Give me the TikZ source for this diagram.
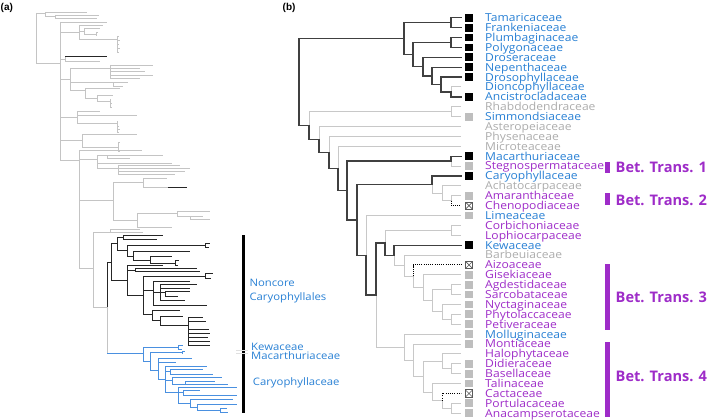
\documentclass[tikz,border=0pt]{standalone}
\usepackage{fontspec}
\setmainfont{Open Sans}
\newfontfamily\panelfont{Liberation Sans}
\newfontfamily\tipfont[FakeStretch=1.1]{Open Sans}
\newfontfamily\afont[FakeStretch=1.1]{Open Sans}
\definecolor{tblue}{RGB}{40,128,212}
\definecolor{tpurple}{RGB}{158,44,200}
\definecolor{tgray}{RGB}{172,172,172}
\definecolor{brlt}{RGB}{200,200,200}
\definecolor{brdk}{RGB}{64,64,64}
\definecolor{sqgray}{RGB}{190,190,190}
\definecolor{xgray}{RGB}{90,90,90}
\definecolor{agray}{RGB}{196,196,196}
\definecolor{ablue}{RGB}{74,144,224}
\begin{document}
\begin{tikzpicture}[x=1pt,y=-1pt,
  brL/.style={draw=brlt,line width=1pt},
  brD/.style={draw=brdk,line width=1.3pt},
  brDot/.style={draw=black,line width=0.9pt,dash pattern=on 1.1pt off 1.1pt},
  ga/.style={draw=agray,line width=0.8pt},
  ka/.style={draw=black!85,line width=1pt},
  ba/.style={draw=ablue,line width=1pt},
  sqB/.style={rectangle,fill=black,minimum size=7.8pt,inner sep=0pt},
  sqG/.style={rectangle,fill=sqgray,minimum size=7.8pt,inner sep=0pt},
  sqX/.style={rectangle,draw=xgray,fill=white,line width=0.7pt,minimum size=7.2pt,inner sep=0pt,
     path picture={\draw[xgray,line width=0.6pt] (path picture bounding box.south west)--(path picture bounding box.north east) (path picture bounding box.north west)--(path picture bounding box.south east);}},
  taxlab/.style={anchor=base west,inner sep=0pt,font=\tipfont\fontsize{11}{11}\selectfont,yshift=-3.9pt},
  btlab/.style={anchor=west,inner sep=0pt,font=\bfseries\fontsize{14.6}{14.6}\selectfont,text=tpurple},
  btbar/.style={rectangle,fill=tpurple,minimum width=5pt,inner sep=0pt},
  alab/.style={anchor=base west,inner sep=0pt,font=\afont\fontsize{10.3}{10.3}\selectfont,text=tblue},
  plab/.style={anchor=west,inner sep=0pt,font=\panelfont\bfseries\fontsize{10}{10}\selectfont}
]
\useasboundingbox (0,0) rectangle (709,420);

% ---------------- panel labels
\node[plab] (pa) at (0.5,8) {(a)};
\node[plab] (pb) at (282.5,8) {(b)};

% ---------------- panel (a): gray part
\draw[ga]
 (36,13)--(36,63)--(60,63)
 (36,13)--(45,13) (45,12.5)--(45,16.5) (45,12.5)--(87,12.5) (45,16.5)--(55,16.5)
 (55,15)--(55,18) (55,15)--(99,15) (55,18)--(97,18)
 (60,22)--(60,160)--(79,160)
 (60,22)--(107,22)
 (60,32)--(79,32) (79,25)--(79,39) (79,25)--(103,25)
 (79,31)--(84,31) (84,28)--(84,34) (84,28)--(100,28) (84,34)--(96,34) (96,32)--(96,36) (96,32)--(98,32)
 (79,39)--(117,39) (117,36)--(117,52)
 (117,36)--(119,36) (117,40)--(120,40) (117,44)--(119,44) (117,48)--(120,48) (117,52)--(119,52)
 (60,59)--(65,59) (65,57)--(65,61) (65,61)--(100,61)
 (60,79)--(70,79) (70,68)--(70,90)
 (70,68)--(110,68) (110,65)--(110,78) (110,65)--(153,65) (110,68)--(140,68) (110,71)--(145,71) (110,75)--(153,75) (110,78)--(140,78)
 (70,82)--(128,82) (113,82)--(113,86) (113,86)--(123,86)
 (70,90)--(85,90) (85,88)--(85,98) (85,88)--(120,88) (85,98)--(97,98) (97,95)--(97,101) (97,95)--(113,95) (97,101)--(110,101) (110,99)--(110,107) (110,103)--(112,103) (110,107)--(112,107)
 (60,117)--(77,117) (77,111)--(77,123) (77,111)--(100,111) (77,115)--(137,115) (77,123)--(117,123) (117,121)--(117,132) (117,126)--(119,126) (117,129)--(120,129) (117,132)--(119,132)
 (60,140)--(82,140) (82,134)--(82,147) (82,134)--(137,134) (82,147)--(118,147) (118,142)--(118,151) (118,142)--(120,142) (118,151)--(120,151)
 (79,150)--(79,268)
 (79,150)--(142,150)
 (79,159)--(97,159) (97,155)--(97,168) (97,155)--(163,155) (107,155)--(107,158) (107,158)--(130,158)
 (97,163)--(172,163) (97,168)--(118,168) (118,165)--(118,174) (118,165)--(180,165) (118,168)--(190,168) (118,171)--(185,171) (118,174)--(175,174)
 (79,200)--(113,200) (113,182)--(113,220) (113,182)--(143,182) (143,178)--(143,187) (143,178)--(167,178) (143,187)--(168,187)
 (113,220)--(137,220) (137,213)--(137,227) (137,213)--(177,213) (177,211)--(177,216) (177,211)--(210,211) (177,216)--(203,216) (190,216)--(190,219) (190,219)--(210,219) (137,227)--(172,227)
 (79,268)--(93,268) (93,232)--(93,307) (93,232)--(143,232) (110,229)--(110,232) (110,229)--(140,229)
 (93,307)--(107,307)--(107,353);

% panel (a): noncore (black)
\draw[ka]
 (65,57)--(107,57)
 (168,187)--(187,187)
 (107,262)--(107,307)
 (107,262)--(111,262) (111,243)--(111,280)
 (111,243)--(117,243) (117,237)--(117,250)
 (117,237)--(123,237) (123,235.5)--(123,239.5) (123,235.5)--(163,235.5) (123,239.5)--(157,239.5)
 (117,250)--(127,250) (127,245)--(127,256)
 (127,245)--(205,245) (205,243)--(205,247) (205,243)--(210,243) (205,247)--(209,247)
 (127,256)--(133,256) (133,251)--(133,260) (133,251)--(190,251)
 (133,260)--(150,260) (150,256)--(150,263) (150,256)--(172,256) (150,263)--(175,263) (175,260.5)--(175,265) (175,260.5)--(179,260.5) (175,265)--(178,265)
 (111,280)--(127,280) (127,265)--(127,295)
 (127,265)--(163,265)
 (127,270)--(135,270) (135,268)--(135,271.5) (135,268)--(197,268) (135,271.5)--(200,271.5)
 (127,295)--(143,295) (143,276)--(143,314)
 (143,276)--(205,276) (205,273.5)--(205,278.5) (205,273.5)--(213,273.5) (205,278.5)--(211,278.5)
 (143,290)--(153,290) (153,281)--(153,305) (153,281)--(190,281) (153,305)--(207,305)
 (153,292)--(160,292) (160,284)--(160,300) (160,284)--(197,284) (160,288)--(190,288) (160,300)--(185,300) (160,292)--(165,292) (165,291)--(165,296) (165,291)--(190,291) (165,296)--(178,296)
 (143,314)--(152,314) (152,310)--(152,320) (152,310)--(180,310) (152,320)--(160,320) (160,316)--(160,325) (160,316)--(183,316) (160,325)--(188,325)
 (188,317)--(188,345) (188,317)--(203,317) (188,321)--(206,321) (188,329)--(209,329) (188,333)--(210,333) (188,337)--(208,337) (188,341)--(210,341) (188,345)--(210,345);

% panel (a): Caryophyllaceae (blue)
\draw[ba]
 (107,353)--(143,353) (143,347)--(143,361)
 (143,347)--(178,347) (178,345.5)--(178,349) (178,345.5)--(183,345.5) (178,349)--(182,349)
 (143,361)--(150,361) (150,352)--(150,370) (150,352)--(182,352) (182,351)--(182,353.5) (182,351)--(185,351)
 (150,370)--(158,370) (158,358)--(158,379) (158,358)--(192,358) (158,362)--(176,362) (158,379)--(165,379)
 (165,366)--(165,392) (165,366)--(207,366)
 (165,371)--(170,371) (170,369)--(170,374) (170,369)--(203,369) (170,374)--(213,374)
 (165,380)--(172,380) (172,377)--(172,384) (172,377)--(222,377) (172,384)--(228,384) (185,381)--(215,381) (185,381)--(185,384)
 (165,392)--(178,392) (178,387)--(178,403)
 (178,387)--(237,387)
 (178,392)--(183,392) (183,390)--(183,395) (183,390)--(200,390) (183,395)--(237,395)
 (178,403)--(190,403) (190,399)--(190,407) (190,399)--(233,399) (190,407)--(197,407) (197,404)--(197,410) (197,404)--(237,404) (197,410)--(220,410) (220,408)--(220,412) (220,408)--(227,408) (220,412)--(228,412);

% panel (a): bar and labels
\node[rectangle,fill=black,minimum width=3.4pt,minimum height=178pt,inner sep=0pt] (abar) at (243.5,324) {};
\draw[draw=black!12,line width=0.8pt] (236,350.5)--(248,350.5) (236,353.2)--(248,353.2);
\node[alab] (anc1) at (249.3,286) {Noncore};
\node[alab] (anc2) at (249.3,300) {Caryophyllales};
\node[alab] (akew) at (251,350) {Kewaceae};
\node[alab] (amac) at (251,359.3) {Macarthuriaceae};
\node[alab] (acar) at (252.7,385) {Caryophyllaceae};

% ---------------- panel (b)
\begin{scope}[y=-9.885pt,yshift=-7.915pt]
\foreach \i in {1,...,41} {\coordinate (t\i) at (461,\i);}
\coordinate (root) at (299,7.507);
\coordinate (nA) at (404,3.1094);
\coordinate (nTF) at (451,1.5);
\coordinate (nA2) at (413,4.7188);
\coordinate (nPP) at (451,3.5);
\coordinate (nA3) at (423,5.9375);
\coordinate (nA4) at (432,6.875);
\coordinate (nA5) at (441,7.75);
\coordinate (nDA) at (451,8.5);
\coordinate (nB1) at (309,11.9047);
\coordinate (nRS) at (451,10.5);
\coordinate (nB2) at (319,13.3094);
\coordinate (nB3) at (329,14.6187);
\coordinate (nB4) at (338,16.2374);
\coordinate (nB5) at (347,18.4749);
\coordinate (nMS) at (451,15.5);
\coordinate (nB6) at (357,21.4497);
\coordinate (nC) at (432,17.875);
\coordinate (nC2) at (442,18.75);
\coordinate (nAC) at (451,19.5);
\coordinate (nD) at (366,25.0244);
\coordinate (nE) at (376,29.0488);
\coordinate (nF) at (385,23.7695);
\coordinate (nCL) at (451,22.5);
\coordinate (nG) at (394,25.0391);
\coordinate (nH) at (404,26.0781);
\coordinate (nI) at (413,27.1563);
\coordinate (nJ) at (423,28.3125);
\coordinate (nK) at (432,29.625);
\coordinate (nAS) at (451,28.5);
\coordinate (nNPP) at (442,30.75);
\coordinate (nPP2) at (451,31.5);
\coordinate (nM) at (404,34.3281);
\coordinate (nP1) at (413,35.6563);
\coordinate (nP2) at (423,37.3125);
\coordinate (nHDB) at (442,35.75);
\coordinate (nDB) at (451,36.5);
\coordinate (nTCPA) at (432,38.875);
\coordinate (nCPA) at (442,39.75);
\coordinate (nPA) at (451,40.5);

\foreach \p/\c in {nDA/t8,nB1/nRS,nRS/t10,nRS/t11,nB2/t12,nB3/t13,nB4/t14,nMS/t16,nC/nC2,nC2/t18,nC2/nAC,nAC/t19,nD/t21,nE/nM,nF/nCL,nCL/t22,nCL/t23,nG/nH,nH/t25,nH/nI,nI/nJ,nJ/t27,nJ/nK,nK/nAS,nAS/t28,nAS/t29,nK/nNPP,nNPP/t30,nNPP/nPP2,nPP2/t31,nPP2/t32,nM/t33,nM/nP1,nP1/t34,nP1/nP2,nP2/nHDB,nHDB/t35,nHDB/nDB,nDB/t36,nDB/t37,nP2/nTCPA,nTCPA/t38,nTCPA/nCPA,nCPA/nPA,nPA/t40,nPA/t41}
  {\draw[brL] (\p) |- (\c);}
\foreach \p/\c in {root/nA,root/nB1,nA/nTF,nA/nA2,nTF/t1,nTF/t2,nA2/nPP,nA2/nA3,nPP/t3,nPP/t4,nA3/t5,nA3/nA4,nA4/t6,nA4/nA5,nA5/t7,nA5/nDA,nDA/t9,nB1/nB2,nB2/nB3,nB3/nB4,nB4/nB5,nB5/nMS,nMS/t15,nB5/nB6,nB6/nC,nC/t17,nB6/nD,nD/nE,nE/nF,nF/nG,nG/t24}
  {\draw[brD,line cap=rect] (\p) |- (\c);}
\foreach \p/\c in {nAC/t20,nI/t26,nCPA/t39}
  {\draw[brDot] (\p) |- (\c);}

\foreach \i in {1,2,3,4,5,6,7,9,15,17,24} {\node[sqB] (s\i) at (469,\i) {};}
\foreach \i in {11,16,19,21,27,28,29,30,31,32,33,34,36,37,38,40,41} {\node[sqG] (s\i) at (469,\i) {};}
\foreach \i in {20,26,39} {\node[sqX] (s\i) at (469,\i) {};}

\foreach \i/\nm/\cl in {1/Tamaricaceae/tblue,2/Frankeniaceae/tblue,3/Plumbaginaceae/tblue,4/Polygonaceae/tblue,5/Droseraceae/tblue,6/Nepenthaceae/tblue,7/Drosophyllaceae/tblue,8/Dioncophyllaceae/tblue,9/Ancistrocladaceae/tblue,10/Rhabdodendraceae/tgray,11/Simmondsiaceae/tblue,12/Asteropeiaceae/tgray,13/Physenaceae/tgray,14/Microteaceae/tgray,15/Macarthuriaceae/tblue,16/Stegnospermataceae/tpurple,17/Caryophyllaceae/tblue,18/Achatocarpaceae/tgray,19/Amaranthaceae/tpurple,20/Chenopodiaceae/tpurple,21/Limeaceae/tblue,22/Corbichoniaceae/tpurple,23/Lophiocarpaceae/tpurple,24/Kewaceae/tblue,25/Barbeuiaceae/tgray,26/Aizoaceae/tpurple,27/Gisekiaceae/tpurple,28/Agdestidaceae/tpurple,29/Sarcobataceae/tpurple,30/Nyctaginaceae/tpurple,31/Phytolaccaceae/tpurple,32/Petiveraceae/tpurple,33/Molluginaceae/tblue,34/Montiaceae/tpurple,35/Halophytaceae/tpurple,36/Didieraceae/tpurple,37/Basellaceae/tpurple,38/Talinaceae/tpurple,39/Cactaceae/tpurple,40/Portulacaceae/tpurple,41/Anacampserotaceae/tpurple}
  {\node[taxlab,text=\cl] (l\i) at (485,\i) {\nm};}
\end{scope}

% betalain transition bars
\node[btbar,minimum height=11pt] (bar1) at (607.5,167.2) {};
\node[btbar,minimum height=12pt] (bar2) at (607.5,199.2) {};
\node[btbar,minimum height=66pt] (bar3) at (607.5,297) {};
\node[btbar,minimum height=74.4pt] (bar4) at (607.5,379.5) {};
\node[btlab] (bt1) at (615.5,167.2) {Bet. Trans. 1};
\node[btlab] (bt2) at (615.5,200) {Bet. Trans. 2};
\node[btlab] (bt3) at (615.5,297) {Bet. Trans. 3};
\node[btlab] (bt4) at (615.5,376) {Bet. Trans. 4};
\end{tikzpicture}
\end{document}
